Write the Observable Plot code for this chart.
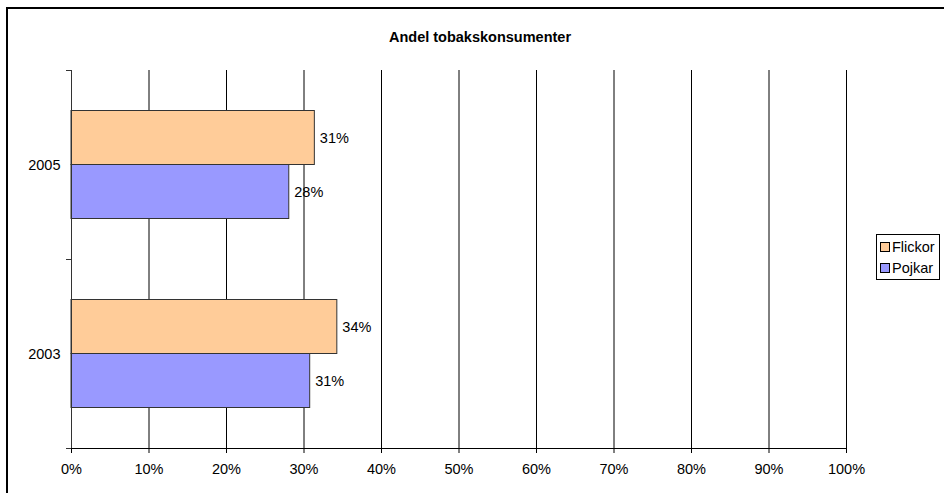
<!DOCTYPE html>
<html><head><meta charset="utf-8">
<script src="https://cdn.jsdelivr.net/npm/d3@7"></script>
<script src="https://cdn.jsdelivr.net/npm/@observablehq/plot@0.6"></script>
<style>
html,body{margin:0;padding:0;background:#fff;overflow:hidden;}
#wrap{position:relative;width:944px;height:493px;overflow:hidden;font-family:"Liberation Sans",Arial,sans-serif;color:#000;}
#chart{position:absolute;left:0;top:0;}
#border{position:absolute;left:6px;top:7px;width:1200px;height:800px;border-left:2.5px solid #000;border-top:2.5px solid #000;box-sizing:border-box;pointer-events:none;}
#title{position:absolute;top:29px;left:0;width:960px;text-align:center;font-weight:bold;font-size:14.5px;}
#legend{position:absolute;left:876px;top:234px;width:64px;height:46px;border:1px solid #000;box-sizing:border-box;background:#fff;font-size:14.5px;}
.row{position:absolute;left:3px;height:18px;line-height:18px;white-space:nowrap;}
.sw{display:inline-block;width:8px;height:8px;border:1px solid #000;vertical-align:middle;margin-right:2px;position:relative;top:-1px;}
</style>
</head><body>
<div id="wrap">
  <div id="chart"></div>
  <div id="border"></div>
  <div id="title">Andel tobakskonsumenter</div>
  <div id="legend"></div>
</div>
<script>
const years = ["2003", "2005"];
const series = ["Flickor", "Pojkar"];
const flickor = [34.3, 31.4];
const pojkar = [30.8, 28.1];
const xTicks = [0, 10, 20, 30, 40, 50, 60, 70, 80, 90, 100];
const colors = ["#FFCC99", "#9999FF"];

const data = [];
years.forEach((y, i) => {
  data.push({year: y, series: series[0], value: flickor[i]});
  data.push({year: y, series: series[1], value: pojkar[i]});
});

const chart = Plot.plot({
  width: 944,
  height: 493,
  marginLeft: 71,
  marginRight: 98,
  marginTop: 69.5,
  marginBottom: 45.5,
  style: {background: "transparent", fontFamily: "Liberation Sans, Arial, sans-serif", fontSize: "14.5px", color: "#000"},
  x: {domain: [0, 100], ticks: xTicks, tickFormat: d => d + "%", tickSize: 5, tickPadding: 10, label: null, line: true},
  y: {domain: series, paddingInner: 0, paddingOuter: 0.73, axis: null},
  fy: {domain: years.slice().reverse(), padding: 0, axis: "left", label: null, tickSize: 0, tickPadding: 11},
  color: {domain: series, range: colors},
  marks: [
    Plot.ruleX(xTicks, {stroke: "#000", strokeWidth: 1}),
    Plot.barX(data, {x: "value", y: "series", fy: "year", fill: "series", stroke: "#333", strokeWidth: 1}),
    Plot.text(data, {x: "value", y: "series", fy: "year", text: d => Math.round(d.value) + "%", textAnchor: "start", dx: 5, fill: "#000", fontSize: 14.5}),
    Plot.ruleX([0], {stroke: "#333", strokeWidth: 1})
  ]
});
document.getElementById("chart").appendChild(chart);

// category boundary tick marks on the left axis
const fyS = chart.scale("fy");
const xS = chart.scale("x");
const yb = d3.scaleBand(fyS.domain, fyS.range).padding(0);
const xl = d3.scaleLinear(xS.domain, xS.range);
const bounds = [];
fyS.domain.forEach(d => { bounds.push(yb(d)); });
bounds.push(yb(fyS.domain[fyS.domain.length - 1]) + yb.bandwidth());
const g = d3.select(chart).append("g").attr("stroke", "#333").attr("stroke-width", 1);
bounds.forEach(b => {
  g.append("line").attr("x1", xl(0) - 5).attr("x2", xl(0)).attr("y1", Math.round(b) + 0.5).attr("y2", Math.round(b) + 0.5);
});

// legend
const leg = document.getElementById("legend");
series.forEach((s, i) => {
  const r = document.createElement("div");
  r.className = "row";
  r.style.top = (3 + i * 21) + "px";
  const sw = document.createElement("span");
  sw.className = "sw";
  sw.style.background = colors[i];
  r.appendChild(sw);
  r.appendChild(document.createTextNode(s));
  leg.appendChild(r);
});
</script>
</body></html>
